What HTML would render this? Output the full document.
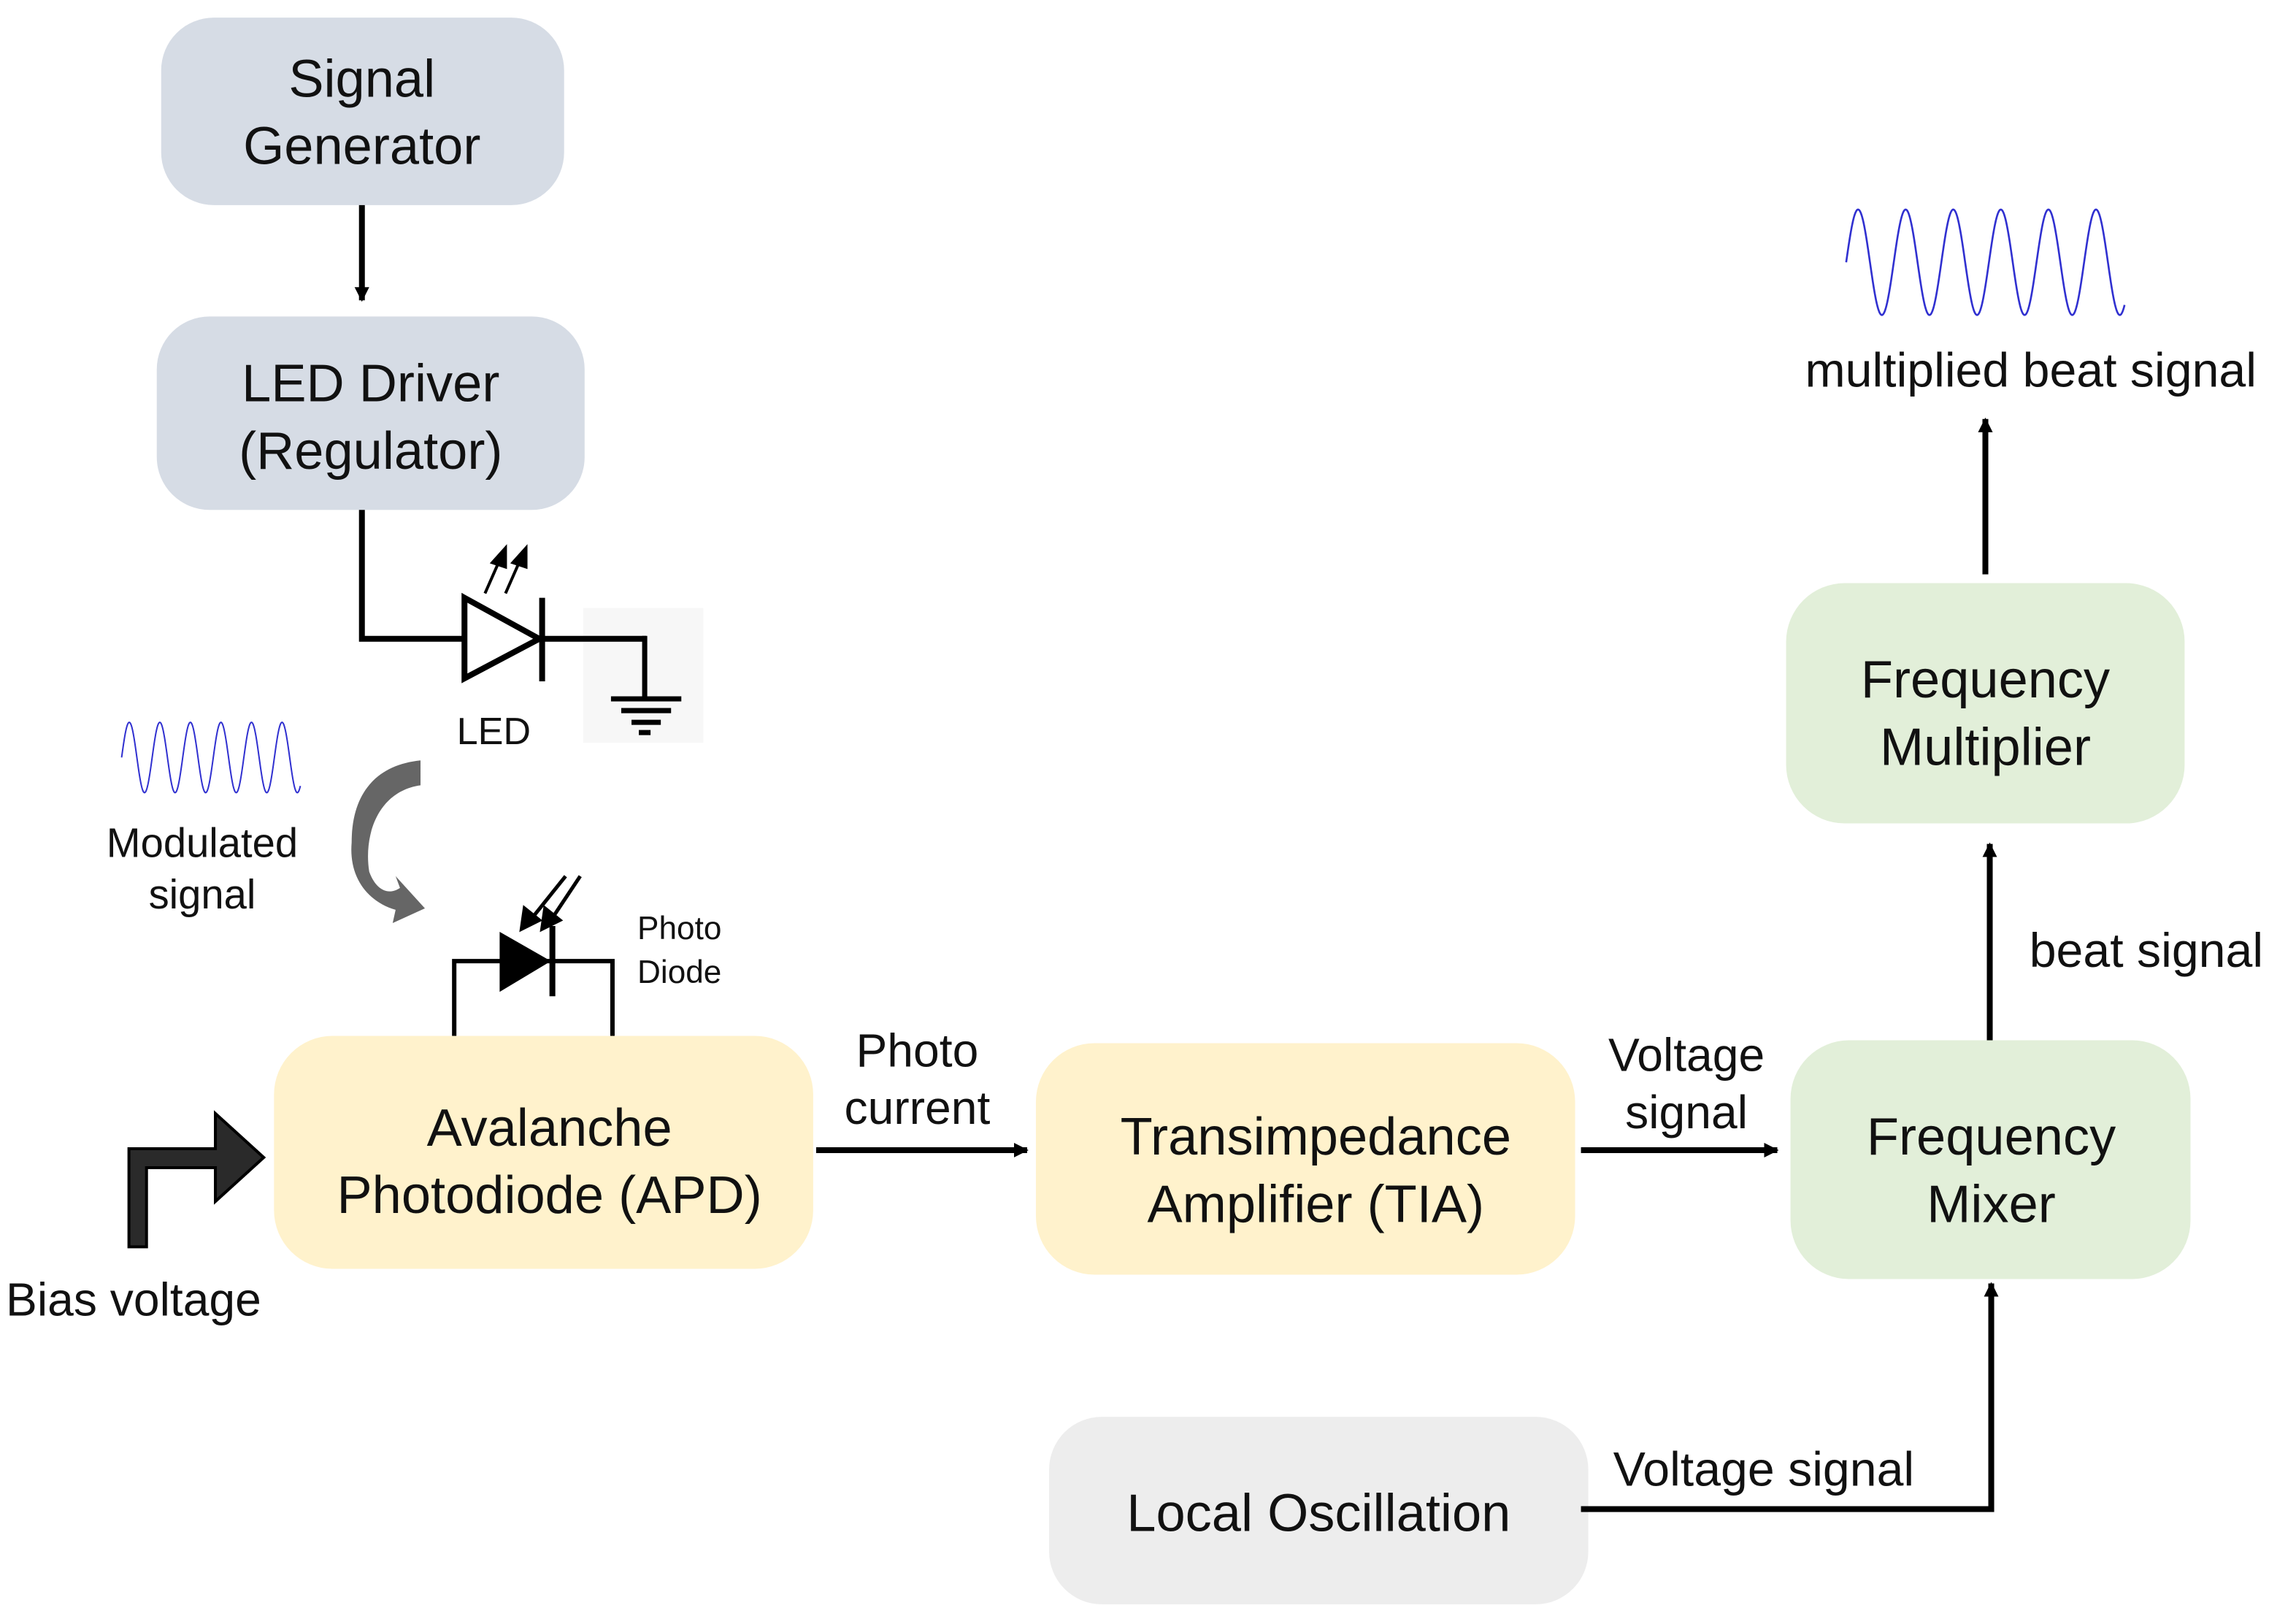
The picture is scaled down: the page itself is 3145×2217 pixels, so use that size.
<!DOCTYPE html>
<html><head><meta charset="utf-8"><style>
html,body{margin:0;padding:0;background:#fff;}
svg{display:block;}
text{font-family:"Liberation Sans",sans-serif;fill:#111;}
</style></head><body>
<svg width="3145" height="2217" viewBox="0 0 1567 1105" preserveAspectRatio="none" xmlns="http://www.w3.org/2000/svg">
<defs>
<marker id="ah" markerWidth="10" markerHeight="10" refX="9" refY="5" orient="auto" markerUnits="userSpaceOnUse">
<path d="M0,0 L10,5 L0,10 Z" fill="#000"/></marker>
</defs>
<rect x="110" y="12" width="275" height="128" rx="36" fill="#d6dce5"/>
<text x="247" y="66" font-size="36" text-anchor="middle">Signal</text>
<text x="247" y="112" font-size="36" text-anchor="middle">Generator</text>
<rect x="107" y="216" width="292" height="132" rx="36" fill="#d6dce5"/>
<text x="253" y="274" font-size="36" text-anchor="middle">LED Driver</text>
<text x="253" y="320" font-size="36" text-anchor="middle">(Regulator)</text>
<rect x="187" y="707" width="368" height="159" rx="40" fill="#fff2cc"/>
<text x="375" y="782" font-size="36" text-anchor="middle">Avalanche</text>
<text x="375" y="828" font-size="36" text-anchor="middle">Photodiode (APD)</text>
<rect x="707" y="712" width="368" height="158" rx="40" fill="#fff2cc"/>
<text x="898" y="788" font-size="36" text-anchor="middle">Transimpedance</text>
<text x="898" y="834" font-size="36" text-anchor="middle">Amplifier (TIA)</text>
<rect x="1222" y="710" width="273" height="163" rx="40" fill="#e2efd9"/>
<text x="1359" y="788" font-size="36" text-anchor="middle">Frequency</text>
<text x="1359" y="834" font-size="36" text-anchor="middle">Mixer</text>
<rect x="1219" y="398" width="272" height="164" rx="40" fill="#e2efd9"/>
<text x="1355" y="476" font-size="36" text-anchor="middle">Frequency</text>
<text x="1355" y="522" font-size="36" text-anchor="middle">Multiplier</text>
<rect x="716" y="967" width="368" height="128" rx="36" fill="#ededed"/>
<text x="900" y="1045" font-size="36" text-anchor="middle">Local Oscillation</text>

<rect x="398" y="415" width="82" height="92" fill="#f7f7f7"/>
<g stroke="#000" stroke-width="4" fill="none">
<line x1="247" y1="140" x2="247" y2="205" marker-end="url(#ah)"/>
<polyline points="247,348 247,436 316,436"/>
<line x1="370" y1="436" x2="441" y2="436"/>
<line x1="557" y1="785" x2="701" y2="785" marker-end="url(#ah)"/>
<line x1="1079" y1="785" x2="1213" y2="785" marker-end="url(#ah)"/>
<line x1="1358" y1="710" x2="1358" y2="576" marker-end="url(#ah)"/>
<line x1="1355" y1="392" x2="1355" y2="286" marker-end="url(#ah)"/>
<polyline points="1079,1030 1359,1030 1359,876" marker-end="url(#ah)"/>
</g>
<g stroke="#000" stroke-width="3.5" fill="none">
<line x1="440" y1="434" x2="440" y2="476"/>
<line x1="417" y1="477" x2="465" y2="477"/>
<line x1="424" y1="485" x2="458" y2="485"/>
<line x1="431" y1="493" x2="451" y2="493"/>
<line x1="436" y1="500" x2="444" y2="500"/>
</g>
<polygon points="317,408 368,436 317,463" fill="#fff" stroke="#000" stroke-width="4"/>
<line x1="370" y1="408" x2="370" y2="465" stroke="#000" stroke-width="4"/>
<g stroke="#000" stroke-width="2" fill="#000">
<line x1="331" y1="405" x2="342" y2="380"/><polygon points="345,374 336,384 345,387"/>
<line x1="345" y1="405" x2="356" y2="380"/><polygon points="359,374 350,384 359,387"/>
</g>
<text x="337" y="508" font-size="26" text-anchor="middle">LED</text>
<g stroke="#000" stroke-width="3" fill="none">
<polyline points="310,707 310,656 418,656 418,707"/>
</g>
<polygon points="341,636 376,656 341,677" fill="#000"/>
<line x1="377" y1="632" x2="377" y2="680" stroke="#000" stroke-width="4"/>
<g stroke="#000" stroke-width="2.5" fill="#000">
<line x1="386" y1="598" x2="362" y2="628"/><polygon points="356,634 358,620 368,628"/>
<line x1="396" y1="598" x2="376" y2="628"/><polygon points="370,634 372,620 382,628"/>
</g>
<text x="435" y="641" font-size="22">Photo</text>
<text x="435" y="671" font-size="22">Diode</text>
<path d="M287,519 L287,536 C258,540 248,570 252,595 C256,606 264,612 273,606 L270,598 L290,620 L268,630 L270,621 C250,615 238,598 240,575 C240,540 258,522 287,519 Z" fill="#666"/>
<path d="M88,851 L100,851 L100,797 L147,797 L147,820 L180,790 L147,760 L147,784 L88,784 Z" fill="#2a2a2a" stroke="#000" stroke-width="2"/>
<text x="4" y="898" font-size="32">Bias voltage</text>
<path id="w1" fill="none" stroke="#3030d0" stroke-width="1"/>
<path id="w2" fill="none" stroke="#3030d0" stroke-width="1.3"/>
<text x="138" y="585" font-size="28" text-anchor="middle">Modulated</text>
<text x="138" y="620" font-size="28" text-anchor="middle">signal</text>
<text x="626" y="728" font-size="32" text-anchor="middle">Photo</text>
<text x="626" y="767" font-size="32" text-anchor="middle">current</text>
<text x="1151" y="731" font-size="32" text-anchor="middle">Voltage</text>
<text x="1151" y="770" font-size="32" text-anchor="middle">signal</text>
<text x="1386" y="264" font-size="33" text-anchor="middle">multiplied beat signal</text>
<text x="1385" y="660" font-size="33">beat signal</text>
<text x="1101" y="1014" font-size="33">Voltage signal</text>
</svg>
<script>
function wave(id,x0,x1,yc,a,cycles){
 var d="",n=400;
 for(var i=0;i<=n;i++){var t=i/n;var x=x0+(x1-x0)*t;var y=yc-a*Math.sin(t*cycles*2*Math.PI);
 d+=(i?"L":"M")+x.toFixed(2)+","+y.toFixed(2);}
 document.getElementById(id).setAttribute("d",d);
}
wave("w1",83,205,517,24,5.85);
wave("w2",1260,1450,179,36,5.85);
</script>
</body></html>
